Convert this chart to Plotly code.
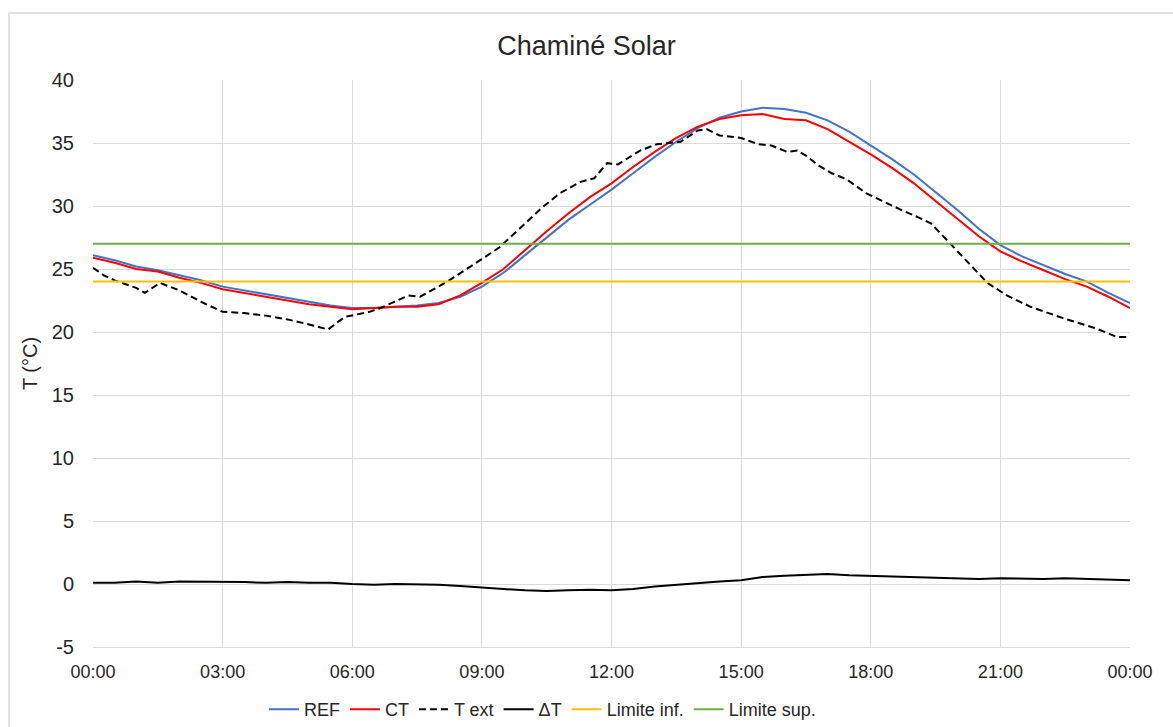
import plotly.graph_objects as go

# ---- data ----
hours = [i * 0.5 for i in range(49)]
x_tick_vals = [0, 3, 6, 9, 12, 15, 18, 21, 24]
x_tick_labels = ["00:00", "03:00", "06:00", "09:00", "12:00", "15:00", "18:00", "21:00", "00:00"]
y_tick_vals = [-5, 0, 5, 10, 15, 20, 25, 30, 35, 40]
y_tick_labels = ["-5", "0", "5", "10", "15", "20", "25", "30", "35", "40"]

ref = [26.1, 25.7, 25.2, 24.9, 24.5, 24.1, 23.6, 23.3, 23.0, 22.7, 22.4, 22.1, 21.9, 21.9,
       22.0, 22.1, 22.3, 22.8, 23.6, 24.7, 26.1, 27.5, 28.9, 30.1, 31.3, 32.6, 33.9, 35.1,
       36.2, 37.0, 37.5, 37.8, 37.7, 37.4, 36.8, 35.9, 34.8, 33.7, 32.5, 31.1, 29.7, 28.2,
       26.9, 26.0, 25.3, 24.6, 24.0, 23.1, 22.3]
ct = [25.9, 25.5, 25.0, 24.8, 24.3, 23.9, 23.4, 23.1, 22.8, 22.5, 22.2, 22.0, 21.8, 21.9,
      22.0, 22.0, 22.2, 22.9, 23.9, 25.0, 26.5, 28.0, 29.4, 30.7, 31.8, 33.1, 34.3, 35.4,
      36.3, 36.9, 37.2, 37.3, 36.9, 36.8, 36.1, 35.1, 34.1, 33.0, 31.8, 30.4, 29.0, 27.6,
      26.4, 25.6, 24.9, 24.2, 23.6, 22.8, 21.9]
delta_t = [0.1, 0.1, 0.2, 0.1, 0.2, 0.2, 0.15, 0.15, 0.1, 0.15, 0.1, 0.1, 0.0, -0.05,
           0.0, 0.0, -0.05, -0.15, -0.3, -0.4, -0.5, -0.55, -0.5, -0.45, -0.5, -0.4, -0.2, -0.05,
           0.1, 0.2, 0.3, 0.55, 0.65, 0.7, 0.8, 0.7, 0.65, 0.55, 0.5, 0.45, 0.4, 0.4,
           0.45, 0.4, 0.4, 0.45, 0.4, 0.3, 0.3]

text_hours = [0.0, 0.25, 0.5, 0.75, 1.0, 1.2, 1.55, 2.0, 2.5, 3.0, 3.5, 4.0, 4.5, 5.0, 5.44,
              5.83, 6.4, 6.65, 7.3, 7.57, 8.2, 8.96, 9.4, 10.0, 10.4, 10.8, 11.27, 11.6, 11.9,
              12.15, 12.66, 13.05, 13.6, 14.0, 14.2, 14.5, 15.0, 15.4, 15.7, 16.06, 16.3, 16.5,
              16.8, 17.1, 17.45, 17.9, 18.2, 18.7, 19.1, 19.4, 19.76, 20.2, 20.7, 21.15, 21.7,
              22.45, 23.2, 23.7, 24.0]
t_ext = [25.1, 24.5, 24.1, 23.8, 23.5, 23.1, 23.9, 23.3, 22.4, 21.6, 21.5, 21.3, 21.0, 20.6, 20.2,
         21.2, 21.6, 21.9, 22.9, 22.8, 24.0, 25.7, 26.7, 28.6, 29.9, 31.0, 31.9, 32.2, 33.4,
         33.3, 34.4, 34.9, 35.1, 36.0, 36.1, 35.6, 35.4, 34.9, 34.8, 34.3, 34.4, 34.0,
         33.2, 32.6, 32.1, 31.0, 30.5, 29.7, 29.1, 28.6, 27.3, 25.7, 23.9, 22.9, 22.0,
         21.1, 20.3, 19.6, 19.6]

lim_inf = 24
lim_sup = 27

FONT = "Liberation Sans, Arial, sans-serif"
TXT = "#262626"

fig = go.Figure()
fig.add_trace(go.Scatter(x=hours, y=ref, mode="lines", name="REF",
                         line=dict(color="#4472C4", width=2)))
fig.add_trace(go.Scatter(x=hours, y=ct, mode="lines", name="CT",
                         line=dict(color="#FF0000", width=2)))
fig.add_trace(go.Scatter(x=text_hours, y=t_ext, mode="lines", name="T ext",
                         line=dict(color="#000000", width=2, dash="7px,4px")))
fig.add_trace(go.Scatter(x=hours, y=delta_t, mode="lines", name="ΔT",
                         line=dict(color="#000000", width=2)))
fig.add_trace(go.Scatter(x=[0, 24], y=[lim_inf, lim_inf], mode="lines", name="Limite inf.",
                         line=dict(color="#FFC000", width=2)))
fig.add_trace(go.Scatter(x=[0, 24], y=[lim_sup, lim_sup], mode="lines", name="Limite sup.",
                         line=dict(color="#70AD47", width=2)))

fig.update_layout(
    width=1173, height=727,
    margin=dict(l=93, r=43, t=80, b=80, autoexpand=False),
    paper_bgcolor="white", plot_bgcolor="white",
    font=dict(family=FONT, size=17, color=TXT),
    title=dict(text="Chaminé Solar", x=0.5, xanchor="center", y=0.937, yanchor="middle",
               font=dict(family=FONT, size=27, color=TXT)),
    showlegend=True,
    legend=dict(orientation="h", xref="container", yref="container",
                x=0.225, xanchor="left", y=0.024, yanchor="middle",
                bgcolor="rgba(0,0,0,0)",
                font=dict(family=FONT, size=18, color=TXT), itemwidth=30,
                tracegroupgap=0),
    xaxis=dict(range=[0, 24], tickmode="array", tickvals=x_tick_vals, ticktext=x_tick_labels,
               showgrid=True, gridcolor="#D9D9D9", gridwidth=1, zeroline=False,
               showline=True, linecolor="#D9D9D9", linewidth=1, ticks="",
               ticklabelstandoff=8,
               tickfont=dict(family=FONT, size=18, color=TXT)),
    yaxis=dict(range=[-5, 40], tickmode="array", tickvals=y_tick_vals, ticktext=y_tick_labels,
               showgrid=True, gridcolor="#D9D9D9", gridwidth=1,
               zeroline=False, showline=False, ticks="", ticklabelstandoff=18,
               title=dict(text="T (°C)", font=dict(family=FONT, size=20, color=TXT),
                          standoff=8),
               tickfont=dict(family=FONT, size=20, color=TXT)),
    shapes=[dict(type="rect", xref="paper", yref="paper",
                 x0=-0.081, x1=1.2, y0=-0.3, y1=1.118,
                 line=dict(color="#D9D9D9", width=1.5), fillcolor="rgba(0,0,0,0)", layer="below")],
)

fig.write_html("out.html")
